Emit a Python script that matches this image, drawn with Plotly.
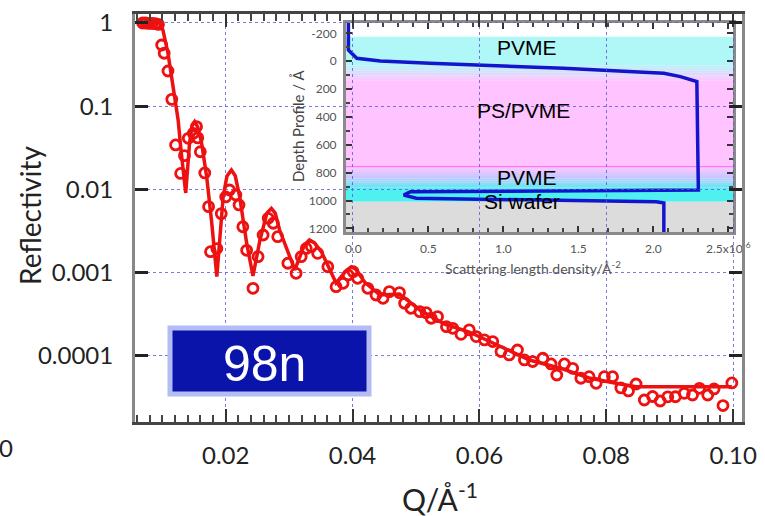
import plotly.graph_objects as go

W, H = 765, 516

# ---------------- data ----------------
# measured reflectivity (open circles)
q_data = [0.0069, 0.0074, 0.0079, 0.0084, 0.0089, 0.0094, 0.0099, 0.0103, 0.0109, 0.0115,
          0.0121, 0.0129, 0.0135, 0.0141, 0.0149, 0.0154, 0.0156, 0.0160, 0.0167, 0.0173,
          0.0176, 0.0186, 0.0193, 0.0200, 0.0206, 0.0216, 0.0221, 0.0227, 0.0233, 0.0243,
          0.0251, 0.0259, 0.0267, 0.0275, 0.0282, 0.0298, 0.0311, 0.0319, 0.0327, 0.0335,
          0.0345, 0.0361, 0.0374, 0.0385, 0.0393, 0.0401, 0.0408, 0.0424, 0.0437, 0.0448,
          0.0458, 0.0474, 0.0482, 0.0492, 0.0506, 0.0516, 0.0524, 0.0534, 0.0548, 0.0558,
          0.0571, 0.0584, 0.0595, 0.0608, 0.0621, 0.0634, 0.0647, 0.0660, 0.0671, 0.0684,
          0.0700, 0.0713, 0.0722, 0.0734, 0.0747, 0.0760, 0.0773, 0.0784, 0.0797, 0.0810,
          0.0823, 0.0835, 0.0847, 0.0860, 0.0873, 0.0885, 0.0897, 0.0909, 0.0923, 0.0936,
          0.0947, 0.0960, 0.0970, 0.0984, 0.0998]
r_data = [1.0, 1.0, 0.99, 0.99, 0.98, 0.96, 0.544, 0.433, 0.265, 0.121,
          0.0343, 0.0156, 0.0255, 0.0412, 0.0473, 0.0569, 0.0417, 0.0284, 0.0158, 0.00622,
          0.00179, 0.00195, 0.00513, 0.00813, 0.00986, 0.00859, 0.00652, 0.00357, 0.00186, 0.00065,
          0.00156, 0.00284, 0.00451, 0.00393, 0.00271, 0.00130, 0.000985, 0.00156, 0.00196, 0.00206,
          0.00171, 0.00118, 0.00068, 0.000747, 0.00094, 0.00103, 0.000857, 0.00065, 0.00054, 0.000493,
          0.000593, 0.000577, 0.00043, 0.000374, 0.000341, 0.000332, 0.000284, 0.000297, 0.000225, 0.000215,
          0.000182, 0.000206, 0.000171, 0.000156, 0.000149, 0.000113, 0.000103, 0.000118, 0.0000897, 0.0000857,
          0.0000939, 0.0000802, 0.0000591, 0.0000802, 0.0000711, 0.0000540, 0.0000564, 0.0000470, 0.0000564, 0.0000564,
          0.0000413, 0.0000380, 0.0000461, 0.0000296, 0.0000326, 0.0000288, 0.0000323, 0.0000324, 0.0000356, 0.0000340,
          0.0000409, 0.0000340, 0.0000402, 0.0000254, 0.0000474]

# model fit (solid line)
q_fit = [0.0060, 0.0096, 0.0101, 0.0109, 0.0117, 0.0125, 0.0130, 0.0137, 0.0143, 0.0147, 0.0151,
         0.0156, 0.0162, 0.0170, 0.0178, 0.0186, 0.0196, 0.0202, 0.0209, 0.0215, 0.0222, 0.0233, 0.0243,
         0.0254, 0.0265, 0.0272, 0.0278, 0.0285, 0.0309, 0.0324, 0.0332, 0.0340, 0.0351, 0.0374,
         0.0391, 0.0398, 0.0405, 0.0419, 0.0443, 0.0474,
         0.0506, 0.0545, 0.0584, 0.0632, 0.0679, 0.0726, 0.0773, 0.0813, 0.0847, 0.0998]
r_fit = [1.0, 1.0, 0.824, 0.433, 0.172, 0.0684, 0.0274, 0.00908, 0.0362, 0.058, 0.0652,
         0.056, 0.0362, 0.01426, 0.00396, 0.000897, 0.00819, 0.0145, 0.01714, 0.0146, 0.00819, 0.00228, 0.000914,
         0.00247, 0.0052, 0.00594, 0.0052, 0.00326, 0.00108, 0.00215, 0.00247, 0.00228, 0.00178, 0.000753,
         0.00108, 0.00118, 0.00110, 0.000774, 0.00054, 0.000556,
         0.000357, 0.000242, 0.000194, 0.000132, 0.0000895, 0.0000718, 0.0000544, 0.0000474, 0.0000428, 0.0000428]

# inset: scattering length density profile (x 1e-6 A^-2) vs depth (A)
depth_prof = [-274, -80, -21, -1, 15, 51, 87, 111, 147, 925, 937, 961, 984, 997, 1009, 1018, 1226]
sld_prof = [-0.033, -0.033, 0.023, 0.18, 0.51, 1.40, 2.07, 2.18, 2.29, 2.30, 0.38, 0.336, 0.42, 1.18, 2.02, 2.07, 2.07]

main_xtickvals = [0.02, 0.04, 0.06, 0.08, 0.10]
main_xticktext = ["0.02", "0.04", "0.06", "0.08", "0.10"]
main_ytickvals = [1, 0.1, 0.01, 0.001, 0.0001]
main_yticktext = ["1", "0.1", "0.01", "0.001", "0.0001"]
inset_xtickvals = [0.0, 0.5, 1.0, 1.5, 2.0, 2.5]
inset_xticktext = ["0.0", "0.5", "1.0", "1.5", "2.0", "2.5x10<sup>-6</sup>"]
inset_ytickvals = [-200, 0, 200, 400, 600, 800, 1000, 1200]
inset_yticktext = ["-200", "0", "200", "400", "600", "800", "1000", "1200"]

layer_names = ["PVME", "PS/PVME", "PVME", "Si wafer"]

# ---------------- helpers ----------------
def px(x):
    return x / W


def py(y):
    return 1 - y / H


def hexrgb(h):
    h = h.lstrip('#')
    return tuple(int(h[i:i + 2], 16) for i in (0, 2, 4))


def mix(c1, c2, t):
    a, b = hexrgb(c1), hexrgb(c2)
    return 'rgb(%d,%d,%d)' % tuple(round(a[i] + (b[i] - a[i]) * t) for i in range(3))


RED = '#ee1111'
FONT = 'Lato, "Open Sans", sans-serif'

fig = go.Figure()

# inset (subplot xy) drawn first so the main grid shows over it
fig.add_trace(go.Scatter(x=sld_prof, y=depth_prof, mode='lines', xaxis='x', yaxis='y',
                         line=dict(color='#1414cc', width=3.5), showlegend=False, hoverinfo='skip'))

# main plot (subplot x2y2)
fig.add_trace(go.Scatter(x=q_fit, y=r_fit, mode='lines', xaxis='x2', yaxis='y2',
                         line=dict(color=RED, width=3.5), showlegend=False))
fig.add_trace(go.Scatter(x=q_data, y=r_data, mode='markers', xaxis='x2', yaxis='y2',
                         marker=dict(symbol='circle-open', size=10, color=RED, line=dict(width=2.8, color=RED)),
                         showlegend=False))

shapes = []
# inset colour bands (depth in A)
CYAN_L, PINK, LAV, CYAN_B, GREY = '#b0f8f8', '#ffc4ff', '#c0c8ff', '#4ff0f0', '#dcdcdc'


def band(d0, d1, col):
    shapes.append(dict(type='rect', xref='x domain', yref='y', x0=0, x1=1, y0=d0, y1=d1,
                       fillcolor=col, line=dict(width=0), layer='below'))


band(-176, 20, CYAN_L)
n = 10
for i in range(n):
    band(20 + i * 12, 20 + (i + 1) * 12 + 1, mix(CYAN_L, PINK, (i + 0.5) / n))
band(140, 760, PINK)
for i in range(n):
    t = (i + 0.5) / n
    col = mix(PINK, LAV, t * 2) if t < 0.5 else mix(LAV, CYAN_B, (t - 0.5) * 2)
    band(760 + i * 16, 760 + (i + 1) * 16 + 1, col)
band(920, 1009, CYAN_B)
band(1009, 1226, GREY)
shapes.append(dict(type='line', xref='x domain', yref='y', x0=0, x1=1, y0=757, y1=757,
                   line=dict(color='#ff66ff', width=1), layer='below'))

# "98n" label box
shapes.append(dict(type='rect', xref='paper', yref='paper', x0=px(170), x1=px(369), y0=py(394), y1=py(328),
                   fillcolor='#0a14aa', line=dict(color='#b4bcf4', width=5), layer='above'))

annotations = []


def ann(text, x, y, size, color='#000', family='"Liberation Sans", Arial, sans-serif', angle=0, xanchor='center'):
    annotations.append(dict(text=text, x=px(x), y=py(y), xref='paper', yref='paper', showarrow=False,
                            font=dict(size=size, color=color, family=family), textangle=angle,
                            xanchor=xanchor, yanchor='middle'))


ann(layer_names[0], 527, 48, 21)
ann(layer_names[1], 523, 111, 21)
ann(layer_names[2], 527, 178, 21)
ann(layer_names[3], 522, 201, 21)
ann('98n', 264, 364, 50, color='#ffffff')
ann('Reflectivity', 30, 216, 28, color='#222', family=FONT, angle=-90)
ann('Q/Å<sup>-1</sup>', 440, 497, 30, color='#222', family=FONT)
ann('Scattering length density/Å<sup>-2</sup>', 533, 267, 14, color='#555', family=FONT)
ann('Depth Profile / Å', 298, 126, 15, color='#444', family=FONT, angle=-90)
ann('0', 15, 447, 24, color='#222', family=FONT, xanchor='right')

GRID = 'rgba(90,90,210,0.8)'

fig.update_layout(
    template='none',
    width=W, height=H,
    margin=dict(l=0, r=0, t=0, b=0, pad=0),
    paper_bgcolor='white', plot_bgcolor='rgba(0,0,0,0)',
    font=dict(family=FONT),
    showlegend=False,
    shapes=shapes, annotations=annotations,
    xaxis=dict(domain=[px(346), px(733)], anchor='y', range=[-0.049, 2.531], automargin=False,
               tickvals=inset_xtickvals, ticktext=inset_xticktext,
               ticks='inside', ticklen=6, tickwidth=1.5, tickcolor='#333',
               minor=dict(dtick=0.1, tick0=0, ticks='inside', ticklen=4, tickcolor='#444', showgrid=False),
               showgrid=False, zeroline=False, showline=True, linecolor='#8a8a8a', linewidth=3,
               mirror='ticks', tickfont=dict(size=12, color='#555'), ticklabelstandoff=4),
    yaxis=dict(domain=[py(232), py(23)], anchor='x', range=[1226, -274], automargin=False,
               tickvals=inset_ytickvals, ticktext=inset_yticktext,
               ticks='inside', ticklen=6, tickwidth=1.5, tickcolor='#333',
               minor=dict(dtick=100, tick0=0, ticks='inside', ticklen=4, tickcolor='#444', showgrid=False),
               showgrid=False, zeroline=False, showline=True, linecolor='#8a8a8a', linewidth=3,
               mirror='ticks', tickfont=dict(size=12, color='#555'), ticklabelstandoff=4),
    xaxis2=dict(domain=[px(135), px(742)], anchor='y2', range=[0.0057, 0.1014], automargin=False,
                tickvals=main_xtickvals, ticktext=main_xticktext,
                ticks='inside', ticklen=13, tickwidth=2, tickcolor='#333',
                minor=dict(dtick=0.002, tick0=0, ticks='inside', ticklen=7, tickwidth=1.5,
                           tickcolor='#444', showgrid=False),
                showgrid=True, gridcolor=GRID, griddash='dot', gridwidth=1,
                zeroline=False, showline=True, linecolor='#444', linewidth=2.5, mirror='ticks',
                tickfont=dict(size=24, color='#222'), ticklabelstandoff=10),
    yaxis2=dict(domain=[py(422), py(14)], anchor='x2', type='log', range=[-4.793, 0.108], automargin=False,
                tickvals=main_ytickvals, ticktext=main_yticktext,
                ticks='inside', ticklen=13, tickwidth=2.5, tickcolor='#222',
                showgrid=True, gridcolor=GRID, griddash='dot', gridwidth=1,
                zeroline=False, showline=True, linecolor='#888', linewidth=3, mirror='ticks',
                tickfont=dict(size=24, color='#222'), ticklabelstandoff=14),
)

fig.write_html('out.html')
